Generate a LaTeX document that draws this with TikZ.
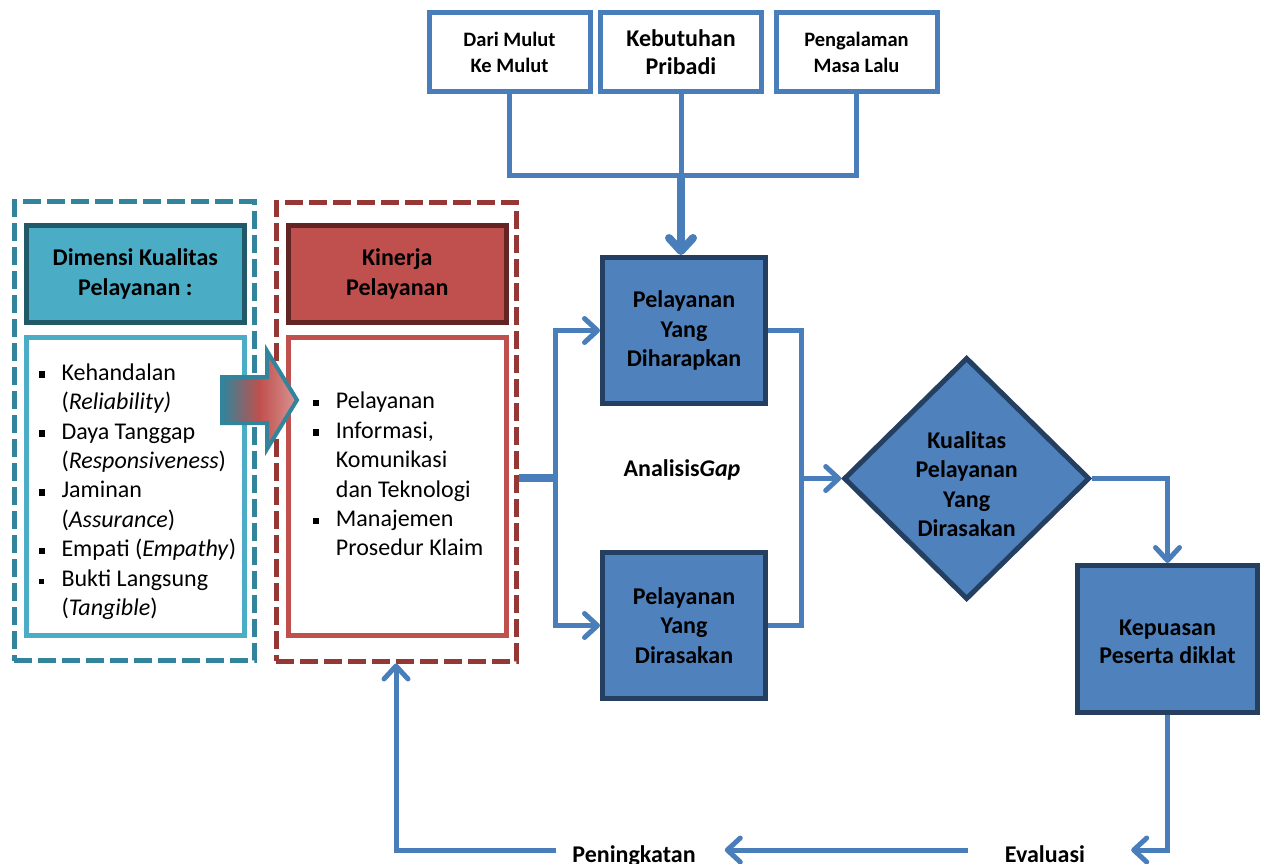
\documentclass[tikz,border=0pt]{standalone}
\usepackage{fontspec}
\setmainfont{Carlito}
\usetikzlibrary{shapes.geometric,arrows.meta,positioning}

\definecolor{flowblue}{RGB}{74,126,187}
\definecolor{boxblue}{RGB}{79,129,189}
\definecolor{edgeblue}{RGB}{36,63,96}
\definecolor{tealdash}{RGB}{49,132,155}
\definecolor{tealfill}{RGB}{75,172,198}
\definecolor{tealedge}{RGB}{33,89,104}
\definecolor{reddash}{RGB}{149,55,53}
\definecolor{redfill}{RGB}{192,80,77}
\definecolor{rededge}{RGB}{99,37,35}
\definecolor{redpale}{RGB}{217,150,148}

\newcommand{\sqbul}[1][6.5pt]{\makebox[23pt][l]{\raisebox{2.4pt}{\rule{#1}{#1}}}}
\newcommand{\indnt}{\hspace*{23pt}}

\begin{document}
\begin{tikzpicture}[x=1pt,y=-1pt,
    >={Straight Barb[length=13pt,width=24pt,round]},
    flow/.style={draw=flowblue,line width=5pt},
    srcbox/.style={draw=flowblue,line width=5pt,fill=white,minimum width=161pt,minimum height=79pt,
        align=center,inner sep=0pt,font=\bfseries\fontsize{20.5}{26}\selectfont},
    bluebox/.style={draw=edgeblue,line width=5pt,fill=boxblue,minimum width=163pt,minimum height=146pt,
        align=center,inner sep=0pt,font=\bfseries\fontsize{24}{29.5}\selectfont},
    grpbox/.style={dash pattern=on 18pt off 6pt,line width=5pt,minimum width=240pt,minimum height=459pt},
    headbox/.style={line width=5pt,minimum width=218pt,minimum height=97pt,
        align=center,inner sep=0pt,font=\bfseries\fontsize{24}{30}\selectfont},
    listbox/.style={line width=5pt,fill=white,minimum width=218pt,minimum height=298pt},
    items/.style={align=left,inner sep=0pt,anchor=north west,font=\fontsize{24}{29.4}\selectfont},
    lbl/.style={inner sep=0pt,font=\bfseries\fontsize{24}{29}\selectfont},
    foot/.style={lbl,text height=24pt,text depth=0pt}
]
    \useasboundingbox (0,0) rectangle (1264,863);

    % sumber harapan
    \node[srcbox] (mulut) at (509.5,52) {Dari Mulut\\Ke Mulut};
    \node[srcbox,font=\bfseries\fontsize{24}{28}\selectfont] (pribadi) at (681,52) {Kebutuhan\\Pribadi};
    \node[srcbox] (lalu) at (856.5,52) {Pengalaman\\Masa Lalu};

    % dimensi dan kinerja
    \node[grpbox,draw=tealdash] (dimgrp) at (134,431.3) {};
    \node[grpbox,draw=reddash] (kingrp) at (396,431.5) {};
    \node[headbox,fill=tealfill,draw=tealedge] (dimhead) at (135.3,274) {Dimensi Kualitas\\Pelayanan :};
    \node[headbox,fill=redfill,draw=rededge,right=39pt of dimhead] (kinhead) {Kinerja\\Pelayanan};
    \node[listbox,draw=tealfill,below=10pt of dimhead] (dimlist) {};
    \node[listbox,draw=redfill,below=10pt of kinhead] (kinlist) {};
    \node[items] (dimitems) at (38.3,363.5) {\sqbul Kehandalan\\
        \indnt(\textit{Reliability)}\\
        \sqbul Daya Tanggap\\
        \indnt(\textit{Responsiveness})\\
        \sqbul Jaminan\\
        \indnt(\textit{Assurance})\\
        \sqbul Empati (\textit{Empathy})\\
        \sqbul[5pt]Bukti Langsung\\
        \indnt(\textit{Tangible})};
    \node[items] (kinitems) at (312.7,392) {\sqbul Pelayanan\\
        \sqbul Informasi,\\
        \indnt Komunikasi\\
        \indnt dan Teknologi\\
        \sqbul Manajemen\\
        \indnt Prosedur Klaim};

    % analisis gap
    \node[bluebox] (harap) at (684,330.5) {Pelayanan\\Yang\\Diharapkan};
    \node[bluebox,below=144pt of harap] (rasa) {Pelayanan\\Yang\\Dirasakan};
    \node[lbl] (gap) at (682,470) {Analisis\textit{Gap}};
    \node[diamond,draw=edgeblue,line width=5pt,fill=boxblue,minimum width=246pt,minimum height=242pt,
        inner sep=0pt,align=center,font=\bfseries\fontsize{24}{29.5}\selectfont]
        (kualitas) at (966.7,478.5) {\rule{0pt}{28pt}Kualitas\\Pelayanan\\Yang\\Dirasakan};
    \node[bluebox,minimum width=180pt,minimum height=147pt,font=\bfseries\fontsize{24}{28}\selectfont]
        (puas) at (1167.5,639) {\rule{0pt}{21pt}Kepuasan\\Peserta diklat};
    \node[foot,anchor=base] (eval) at (1045,862) {Evaluasi};
    \node[foot,anchor=base] (naik) at (634,862) {Peningkatan};

    % alur
    \coordinate (hub) at (pribadi.south |- 0,175);
    \coordinate (split) at (555,478);
    \coordinate (merge) at ([xshift=-40pt]kualitas.west);
    \draw[flow] (mulut.south) |- (hub) -| (lalu.south);
    \draw[flow] (pribadi.south) -- (hub);
    \draw[flow,line width=8pt,->] (hub) -- (hub |- harap.north);
    \draw[flow,line width=8pt] (kingrp.east |- split) -- (split);
    \draw[flow,->] (split) |- (harap.west);
    \draw[flow,->] (split) |- (rasa.west);
    \draw[flow] (harap.east) -| (merge) |- (rasa.east);
    \draw[flow,->] (merge) -- (kualitas.west);
    \draw[flow,->] (kualitas.east) -| (puas.north);
    \draw[flow,->] (puas.south) |- ([xshift=46pt]eval.east);
    \draw[flow,->] ([xshift=-37pt]eval.west) -- ([xshift=29pt]naik.east);
    \draw[flow,->] ([xshift=-16pt]naik.west) -| (kingrp.south);

    % panah gradasi
    \draw[draw=tealdash,line width=4pt,left color=tealdash,right color=redpale,middle color=redfill]
        (222,377) -- (267,377) -- (267,351) -- (297,400) -- (267,449) -- (267,423) -- (222,423) -- cycle;
\end{tikzpicture}
\end{document}
